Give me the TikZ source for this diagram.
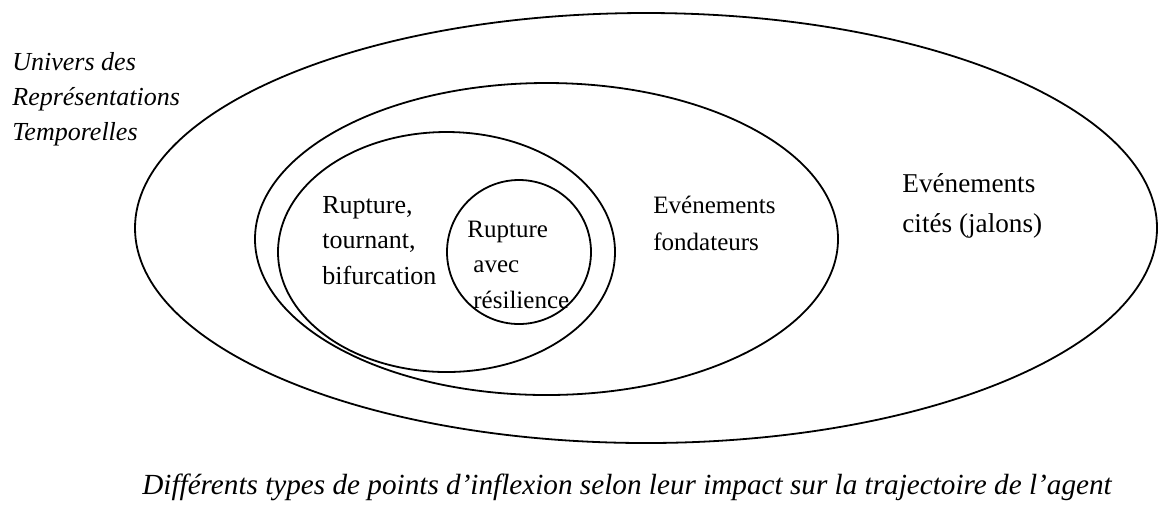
\documentclass[tikz,border=0pt]{standalone}
\usepackage{fontspec}
\setmainfont{Liberation Serif}
\usetikzlibrary{shapes.geometric}

\begin{document}
\begin{tikzpicture}[
  x=0.5pt,y=-0.5pt,
  zone/.style={draw,ellipse,line width=0.9pt,inner sep=0pt},
  zonetext/.style={inner sep=0pt,anchor=base west,align=left,
    font=\fontsize{12.5}{17.75}\selectfont},
  captext/.style={inner sep=0pt,anchor=base,font=\fontsize{14.6}{18}\selectfont\itshape}
]
  \useasboundingbox (0,0) rectangle (1159,511);

  % nested zones
  \node[zone,minimum width=511pt,minimum height=215pt] (univers) at (646,228) {};
  \node[zone,minimum width=291.5pt,minimum height=156pt] (fondateurs) at (546.5,239) {};
  \node[zone,minimum width=168.5pt,minimum height=120pt] (rupture) at (446.5,252) {};
  \node[zone,circle,minimum size=72pt] (resilience) at (519,252) {};

  % texts (anchored on the baseline of their last line)
  \node[zonetext,font=\fontsize{13}{17.5}\selectfont\itshape] (universtxt) at (12,140)
    {Univers des\\Représentations\\Temporelles};
  \node[zonetext,font=\fontsize{13}{17.75}\selectfont] (rupturetxt) at (322,284)
    {Rupture,\\tournant,\\bifurcation};
  \node[zonetext] (resiltxt) at (467,308)
    {Rupture\\\hspace*{3pt}avec\\\hspace*{3pt}résilience};
  \node[zonetext,font=\fontsize{12.5}{18.5}\selectfont] (fondtxt) at (653,250)
    {Evénements\\fondateurs};
  \node[zonetext,font=\fontsize{13.6}{20}\selectfont] (citestxt) at (902,232)
    {Evénements\\cités (jalons)};

  \node[captext] (caption) at (627,494)
    {Différents types de points d’inflexion selon leur impact sur la trajectoire de l’agent};
\end{tikzpicture}
\end{document}
